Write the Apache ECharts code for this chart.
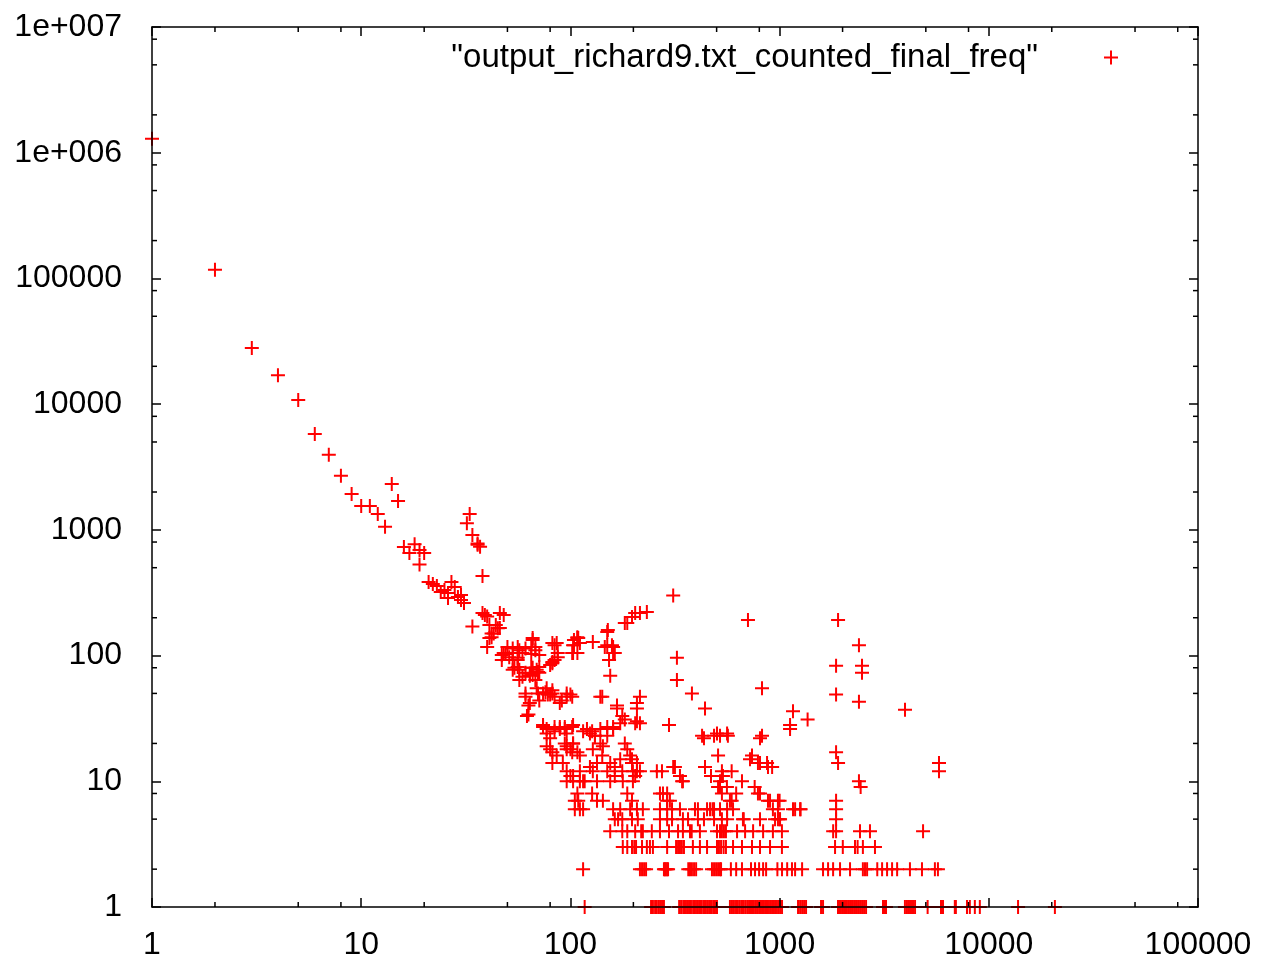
<!DOCTYPE html>
<html>
<head>
<meta charset="utf-8">
<script src="https://cdn.jsdelivr.net/npm/echarts@6/dist/echarts.min.js"></script>
<style>
html, body { margin: 0; background: #fff; }
#chart { width: 1270px; height: 965px; }
</style>
</head>
<body>
<div id="chart"></div>
<script>
var seriesName = '"output_richard9.txt_counted_final_freq"';

// upper diagonal part of the curve
var headPoints = [
  [1,1290000],[2,117000],[3,28000],[4,17000],[5,10800],[6,5800],[7,3950],[8,2690],
  [9,1930],[10,1550],[11,1550],[12,1340],[13,1060],[14,2320],[15,1700],[16,730],
  [17,655],[18,770],[19,690],[19,530],[20,655],[21,385],[22,371],[23,358],[24,321],
  [25,333],[26,287],[26,315],[27,385],[28,351],[29,292],[30,277],[31,262],[30,303],
  [32,1130],[33,1340],[34,910],[36,760],[37,735],[36,780],[38,430],[34,170],
  [38,218],[39,210],[40,205],[46,218],[48,210]
];

// scattered middle part
var midPoints = [
  [44,175],[45,165],[42,150],[41,138],[40,117],[41,175],[43,150],[42,140],[46,166],
  [50,117],[53,105],[49,103],[47,92],[56,117],[59,105],[56,92],[54,80],[57,77],[59,68],
  [66,133],[68,117],[65,103],[69,77],[71,73],[64,69],[48,105],[53,92],[56,81],[64,72],
  [66,80],[57,64],[71,81],[53,114],[57,110],[47,101],[51,97],[61,114],[56,96],[66,138],
  [65,117],[68,110],[71,101],[53,77],[61,73],[65,80],[66,70],[70,74],[68,64],
  [84,121],[87,97],[82,87],[80,84],[86,126],[84,92],[82,126],[87,105],[82,89],
  [104,133],[108,140],[108,138],[104,121],[111,126],[103,105],[128,128],[103,121],[109,138],
  [102,105],[108,105],[150,154],[146,117],[158,121],[160,105],[155,69],[151,160],[150,121],
  [160,117],[163,105],[153,92],[182,182],[187,182],[197,203],[204,218],[215,218],[232,222],
  [61,47],[63,40],[62,33],[69,55],[71,44],[74,50],[78,49],[82,53],[84,47],[89,42],
  [96,47],[102,47],[142,47],[167,38],[177,33],[215,47],[208,38],[208,30],[77,55],[96,50],
  [82,50],[139,47],[167,40],[208,42],[61,50],[64,42],[63,34],[70,50],[76,51],[80,49],
  [91,44],[100,49],
  [74,28],[77,24],[84,25],[89,27],[94,26],[103,28],[80,18],[86,16],[96,19],[102,17],
  [103,20],[120,26],[127,25],[131,23],[139,20],[143,19],[150,23],[160,27],[173,29],
  [182,31],[204,29],[215,29],[182,20],[197,15],[208,14],[215,12],[199,12],[173,15],
  [163,13],[150,12],[134,14],[124,13],[111,12],[100,11],[96,10],[115,10],[134,10],
  [155,10],[178,10],[199,10],[259,12],[74,27],[77,26],[84,27],[89,26],[94,27],[102,27],
  [80,22],[77,19],[82,17],[82,14],[94,20],[100,18],[108,17],[111,16],[96,12],[103,10],
  [111,10],[108,8],[105,7],[115,25],[124,24],[131,23],[139,26],[150,27],[160,26],
  [96,24],[103,20],[96,18],[92,14],[103,11],[117,10],[128,12],[142,16],[128,18],
  [155,14],[163,11],[177,12],[187,18],[193,16],[197,14],[208,12],[204,11],[187,8],
  [109,7],[127,8],[134,7],[143,7],[197,7],[345,10],[290,8],[299,7],[268,8],
  [310,300],[706,192],[323,96],[323,64],[381,50],[440,38],[824,55],[296,28],[426,23],
  [502,24],[561,24],[824,23],[508,16],[722,15],[788,14],[871,14],[921,13],[274,12],
  [316,13],[334,11],[342,10],[536,11],[519,9],[661,10],[788,8],[900,7],[982,7],
  [1159,36],[1122,28],[1361,31],[951,5],[310,13],[277,8],[290,7],[394,6],[465,6],
  [478,6],[590,7],[674,5],[519,10],[530,12],[435,22],[486,23],[519,23],[566,23],
  [806,22],[1122,26],[738,16],[806,14],[880,13],[530,11],[508,9],[530,8],[579,7],
  [806,8],[880,7],[1186,6],[440,13],[470,11],[590,12],[560,9],[620,8],[760,9],
  [1903,192],[2395,121],[1862,83],[2477,83],[2477,73],[1862,49],[2395,43],[3976,37],
  [1862,17],[1903,14],[2395,10],[2440,9],[5780,14],[5780,12],[1862,7],[1000,7],[1000,5],
  [1260,6]
];

// rows of words seen at low counts
var row1X = [117,243,248,254,259,265,271,277,280,
  331,338,346,353,361,369,377,386,394,403,412,421,431,440,450,460,470,481,491,502,
  579,592,605,619,632,646,661,675,690,706,722,738,754,771,788,806,824,842,861,880,
  900,920,940,961,983,1005,1027,1225,1253,1281,1309,1338,1578,1613,
  1902,1944,1988,2032,2077,2124,2171,2219,2269,2319,2371,2424,2478,2533,2590,
  3121,3190,3226,3973,4063,4154,4247,4342,4440,5100,5909,6040,6880,6960,
  7866,8117,8576,9060,13800,20700];
var row2X = [115,215,220,225,230,280,283,286,290,293,366,373,381,390,399,
  475,486,497,508,519,525,585,620,661,730,763,798,834,862,976,1027,1087,1146,1186,
  1281,1613,1705,1802,1945,2171,2501,2560,2620,2930,3090,3264,3449,3646,4198,4793,
  5525,5713];
var row3X = [178,187,197,202,206,220,232,240,248,290,320,327,334,341,349,385,416,
  450,502,513,525,540,554,599,661,738,806,900,1026,1841,2005,2293,2360,2501,2857];
var row4X = [155,177,187,204,218,222,245,268,296,327,345,373,380,416,502,519,530,
  542,554,626,684,747,834,929,1026,1803,1862,2423,2704,4850];
var row5X = [163,169,177,197,210,268,290,306,345,365,407,435,486,530,561,668,806,
  982,1005,1862];
var row6X = [105,111,115,160,173,193,208,222,268,290,306,334,407,450,486,519,561,
  599,929,982,1159,1253,1862];

var xMinorTicks = [2,5,8,20,50,80,200,500,800,2000,5000,8000,20000,50000,80000];
var yMinorTicks = [2,5,8,20,50,80,200,500,800,2000,5000,8000,20000,50000,80000,
  200000,500000,800000,2000000,5000000,8000000];

function rowPoints(xs, y) {
  return xs.map(function (x) { return [x, y]; });
}

var data = headPoints.concat(midPoints,
  rowPoints(row1X, 1), rowPoints(row2X, 2), rowPoints(row3X, 3),
  rowPoints(row4X, 4), rowPoints(row5X, 5), rowPoints(row6X, 6));

var plus = 'path://M0,6H14V8H0Z M6,0H8V14H6Z';
var font = 'Liberation Sans, Arial, sans-serif';
var frame = { show: true, lineStyle: { color: '#000', width: 1.5 } };
var majorTick = { show: true, inside: true, length: 9, lineStyle: { color: '#000', width: 1.5 } };

function yLabel(v) {
  var e = Math.round(Math.log10(v));
  if (e >= 6) return '1e+00' + e;
  return String(Math.round(v));
}

var chart = echarts.init(document.getElementById('chart'));
chart.setOption({
  animation: false,
  backgroundColor: '#fff',
  grid: { left: 152, right: 72, top: 27, bottom: 58 },
  legend: {
    data: [{ name: seriesName, icon: plus }],
    right: 147, top: 36, align: 'right',
    itemWidth: 14, itemHeight: 14,
    selectedMode: false,
    textStyle: { fontFamily: font, fontSize: 33, color: '#000', padding: [0, 61, 0, 0] }
  },
  xAxis: [{
    type: 'log', logBase: 10, min: 1, max: 100000, splitNumber: 5, z: 5,
    axisLine: frame, axisTick: majorTick, splitLine: { show: false },
    axisLabel: { fontFamily: font, fontSize: 32, color: '#000', margin: 22,
      formatter: function (v) { return String(Math.round(v)); } }
  }, {
    type: 'log', logBase: 10, min: 1, max: 100000, splitNumber: 5, position: 'top', z: 5,
    axisLine: frame, axisTick: majorTick, splitLine: { show: false },
    axisLabel: { show: false }
  }],
  yAxis: [{
    type: 'log', logBase: 10, min: 1, max: 10000000, splitNumber: 7, z: 5,
    axisLine: frame, axisTick: majorTick, splitLine: { show: false },
    axisLabel: { fontFamily: font, fontSize: 32, color: '#000', margin: 30, formatter: yLabel }
  }, {
    type: 'log', logBase: 10, min: 1, max: 10000000, splitNumber: 7, position: 'right', z: 5,
    axisLine: frame, axisTick: majorTick, splitLine: { show: false },
    axisLabel: { show: false }
  }],
  series: [{
    name: seriesName,
    type: 'scatter',
    symbol: plus,
    symbolSize: 14,
    itemStyle: { color: '#ff0000', opacity: 1 },
    data: data
  }, {
    type: 'custom',
    silent: true,
    z: 6,
    data: xMinorTicks.map(function (v) { return [v, 1]; }),
    renderItem: function (params, api) {
      var b = api.coord([api.value(0), 1]);
      var t = api.coord([api.value(0), 10000000]);
      var st = { stroke: '#000', lineWidth: 1.5 };
      return { type: 'group', children: [
        { type: 'line', shape: { x1: b[0], y1: b[1], x2: b[0], y2: b[1] - 5 }, style: st },
        { type: 'line', shape: { x1: t[0], y1: t[1], x2: t[0], y2: t[1] + 5 }, style: st }
      ] };
    }
  }, {
    type: 'custom',
    silent: true,
    z: 6,
    data: yMinorTicks.map(function (v) { return [1, v]; }),
    renderItem: function (params, api) {
      var l = api.coord([1, api.value(1)]);
      var r = api.coord([100000, api.value(1)]);
      var st = { stroke: '#000', lineWidth: 1.5 };
      return { type: 'group', children: [
        { type: 'line', shape: { x1: l[0], y1: l[1], x2: l[0] + 5, y2: l[1] }, style: st },
        { type: 'line', shape: { x1: r[0], y1: r[1], x2: r[0] - 5, y2: r[1] }, style: st }
      ] };
    }
  }]
});
</script>
</body>
</html>
